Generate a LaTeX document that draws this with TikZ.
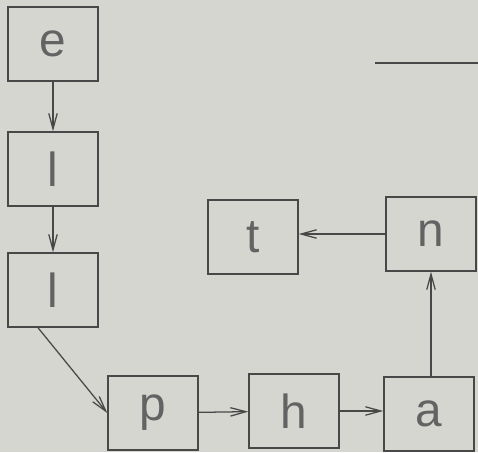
\documentclass[tikz,border=0pt]{standalone}
\usepackage{fontspec}
\setmainfont{Liberation Sans}
\usetikzlibrary{arrows.meta}
\definecolor{paper}{RGB}{214,214,209}
\definecolor{ink}{RGB}{72,72,72}

\begin{document}
\begin{tikzpicture}[x=0.025cm, y=-0.025cm,
    letter/.style={draw=ink, line width=1pt, minimum width=2.25cm, minimum height=1.85cm,
                   inner sep=0pt, text=ink!85, font=\fontsize{34}{40}\selectfont},
    arr/.style={draw=ink, line width=0.9pt, -{Straight Barb[length=11pt,width=6pt]}}]
\fill[paper] (0,0) rectangle (478,452);
\useasboundingbox (0,0) rectangle (478,452);
\node[letter] (e)  at (53,44)   {e};
\node[letter] (l1) at (53,169)  {l};
\node[letter] (l2) at (53,290)  {l};
\node[letter] (p)  at (153,413) {p};
\node[letter] (h)  at (294,411) {h};
\node[letter] (a)  at (429,414) {a};
\node[letter] (n)  at (431,234) {n};
\node[letter] (t)  at (253,237) {t};
\draw[arr] (e) -- (l1);
\draw[arr] (l1) -- (l2);
\draw[arr] ([xshift=-0.375cm]l2.south) -- (p.west);
\draw[arr] (p) -- (h);
\draw[arr] (h.east) -- (h.east -| a.west);
\draw[arr] (a.north -| n.south) -- (n.south);
\draw[arr] (n.west) -- (n.west -| t.east);
% stray rule, top right
\coordinate (r1) at (375,63);
\coordinate (r2) at (478,63);
\draw[ink, line width=1pt] (r1) -- (r2);
\end{tikzpicture}
\end{document}
